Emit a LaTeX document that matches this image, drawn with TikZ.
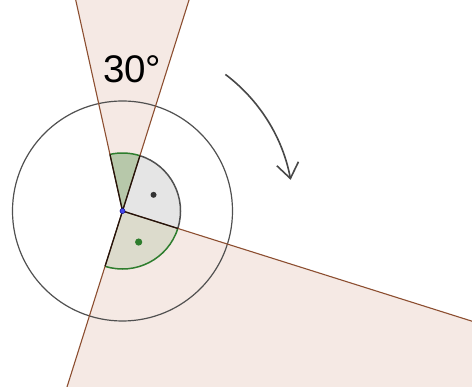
\documentclass[tikz,border=0pt]{standalone}
\usepackage{fontspec}
\setmainfont{Liberation Sans}
\usetikzlibrary{arrows.meta}
\definecolor{rayc}{RGB}{140,78,48}
\definecolor{wedgec}{RGB}{245,233,228}
\definecolor{ringc}{RGB}{80,80,80}
\definecolor{greenc}{RGB}{45,125,45}
\definecolor{dotblue}{RGB}{70,70,235}

\begin{document}
\begin{tikzpicture}[
    x=1pt, y=1pt,
    ray/.style={draw=rayc, line width=1.1pt},
    ring/.style={draw=ringc, line width=1.2pt},
    sect/.style={draw=#1, line width=1.5pt},
    pt/.style={fill=#1, draw=none},
    turn/.style={draw=black!72, line width=1.6pt, -{Straight Barb[length=15pt, width=22pt, line width=1.6pt]}},
]
\useasboundingbox (-122.5,-176) rectangle (349.5,211);
\clip (-122.5,-176) rectangle (349.5,211);
\coordinate (O) at (0,0);

% shaded wedges
\fill[wedgec] (O) -- (102.5:400) -- (72.5:400) -- cycle;
\fill[wedgec] (O) -- (-17.5:700) -- (-62.5:900) -- (252.5:700) -- cycle;

% outer circle
\draw[ring] (O) circle (110);

% sectors of the small circle
\fill[green!40!black, opacity=0.25] (O) -- (72.5:58) arc (72.5:102.5:58) -- cycle;
\fill[black!10] (O) -- (-17.5:58) arc (-17.5:72.5:58) -- cycle;
\fill[green!40!black, opacity=0.1] (O) -- (252.5:58) arc (252.5:342.5:58) -- cycle;
\draw[sect=ringc] (-17.5:58) arc (-17.5:72.5:58);
\draw[sect=greenc] (72.5:58) arc (72.5:102.5:58);
\draw[sect=greenc] (252.5:58) arc (252.5:342.5:58);

% rays
\draw[ray] (O) -- (102.5:300);
\draw[ray] (252.5:300) -- (72.5:300);
\draw[ray] (O) -- (-17.5:500);
\draw[draw=black!75!rayc, line width=1.3pt] (102.5:58) -- (O) -- (72.5:58);
\draw[draw=black!75!rayc, line width=1.3pt] (252.5:58) -- (O) -- (-17.5:58);

% points
\fill[pt=black!80] (27.5:35) circle (3);
\fill[pt=greenc] (-62.5:35) circle (3.6);
\filldraw[fill=dotblue, draw=blue!50!black, line width=0.4pt] (O) circle (2.6);

% rotation arrow
\draw[turn] (53:171) arc (53:10.5:171);

\node[inner sep=0pt, font=\fontsize{38.5}{40}\selectfont] (ang) at (9.7,142) {30°};
\end{tikzpicture}
\end{document}
